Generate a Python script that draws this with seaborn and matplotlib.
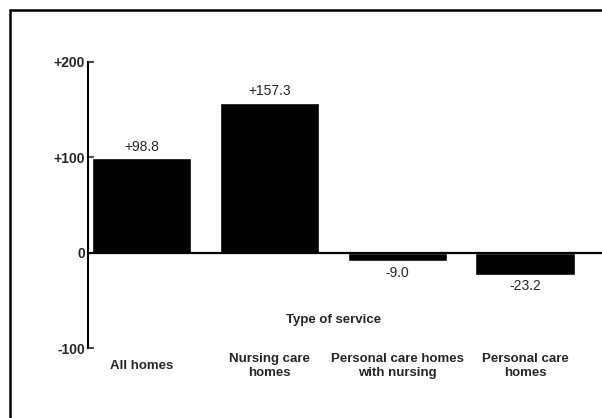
import numpy as np
import pandas as pd
import seaborn as sns
import matplotlib.pyplot as plt
from matplotlib.lines import Line2D

sns.set_style('white')
plt.rcParams['font.family'] = ['Liberation Sans', 'DejaVu Sans']

services = ['All homes', 'Nursing care\nhomes', 'Personal care homes\nwith nursing', 'Personal care\nhomes']
change = [98.8, 157.3, -9.0, -23.2]
value_labels = ['+98.8', '+157.3', '-9.0', '-23.2']
y_ticks = [-100, 0, 100, 200]
y_tick_labels = ['-100', '0', '+100', '+200']

df = pd.DataFrame({'service': services, 'change': change})

fig = plt.figure(figsize=(6.02, 4.18), dpi=100)
ax = fig.add_axes([0.146, 0.167, 0.854, 0.685])

sns.barplot(data=df, x='service', y='change', color='black', width=0.78,
            saturation=1, ax=ax, zorder=2)
ax.axhline(0, color='black', lw=1.6, zorder=3)

ax.bar_label(ax.containers[0], labels=value_labels, padding=3, fontsize=10)

ax.set_ylim(-100, 200)
ax.set_xlim(-0.42, 3.6)
ax.set_yticks(y_ticks)
ax.set_yticklabels(y_tick_labels, fontsize=10, fontweight='bold')
ax.tick_params(axis='y', direction='in', length=4, width=1.2, pad=2, left=True)
ax.tick_params(axis='x', length=0, pad=13, labelsize=9.5)
for lbl in ax.get_xticklabels():
    lbl.set_fontweight('bold')
    lbl.set_verticalalignment('center')
ax.set_xlabel('')
ax.set_ylabel('')

for side in ['top', 'right', 'bottom']:
    ax.spines[side].set_visible(False)
ax.spines['left'].set_linewidth(1.5)
ax.spines['left'].set_color('black')

ax.text(0.477, 0.10, 'Type of service', transform=ax.transAxes, ha='center',
        va='center', fontsize=9.5, fontweight='bold')

# scanned page frame
fig.add_artist(Line2D([10/602, 1], [1 - 10/418, 1 - 10/418], color='black', lw=1.8))
fig.add_artist(Line2D([10/602, 10/602], [0, 1 - 10/418], color='black', lw=1.8))

fig.savefig('out.png', dpi=100)
